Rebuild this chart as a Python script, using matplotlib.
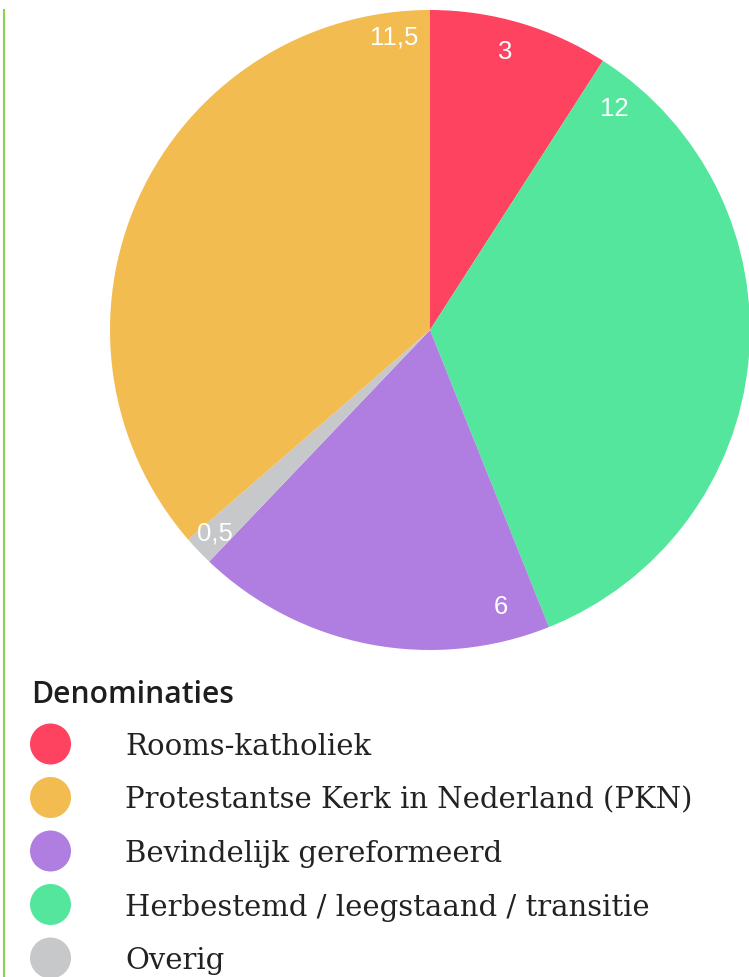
import matplotlib
matplotlib.use("Agg")
import matplotlib.pyplot as plt
from matplotlib.patches import Circle
import numpy as np

# Data (legend order)
categories = ["Rooms-katholiek", "Protestantse Kerk in Nederland (PKN)",
              "Bevindelijk gereformeerd", "Herbestemd / leegstaand / transitie", "Overig"]
# slice sizes as drawn in the picture
values = [3, 12, 6, 11.5, 0.5]
# label texts as printed on the slices
value_labels = ["3", "11,5", "6", "12", "0,5"]
colors = ["#fe4360", "#f2bc50", "#b07de0", "#55e69d", "#c7c8ca"]
legend_title = "Denominaties"

# pie drawing order (clockwise from top)
pie_order = [0, 3, 2, 4, 1]
# label placement (angle clockwise from top in degrees, radius fraction) per pie slice
label_place = [(15.1, 0.90), (39.9, 0.90), (165.6, 0.895), (226.5, 0.925), (-7.0, 0.92)]

W, H = 749, 977
fig = plt.figure(figsize=(W / 100, H / 100), dpi=100)

# Pie axes
ax = fig.add_axes([110 / W, 1 - 650 / H, 640 / W, 640 / H])
pv = [values[i] for i in pie_order]
pc = [colors[i] for i in pie_order]
ax.pie(pv, colors=pc, startangle=90, counterclock=False, radius=1,
       wedgeprops=dict(linewidth=0))
ax.set_xlim(-1, 1)
ax.set_ylim(-1, 1)
ax.set_aspect("equal")
ax.axis("off")
for k, i in enumerate(pie_order):
    ang, r = label_place[k]
    a = np.deg2rad(ang)
    ax.text(r * np.sin(a), r * np.cos(a), value_labels[i], color="white",
            fontsize=18.5, family="Liberation Sans", ha="center", va="center")

# Overlay axes in pixel coords
ov = fig.add_axes([0, 0, 1, 1])
ov.set_xlim(0, W)
ov.set_ylim(H, 0)
ov.axis("off")
ov.patch.set_alpha(0)
ov.plot([4, 4], [9, H], color="#8ad24e", lw=1.5, solid_capstyle="butt")

ov.text(31, 703, legend_title, fontsize=21.6, family="Open Sans", fontweight="semibold",
        color="#1e1e1e", ha="left", va="baseline")
y0, dy = 744, 53.5
for j, (cat, col) in enumerate(zip(categories, colors)):
    yc = y0 + j * dy
    ov.add_patch(Circle((50.5, yc), 20.5, color=col, lw=0))
    ov.text(125, yc + 11, cat, fontsize=21, family="DejaVu Serif",
            color="#222222", ha="left", va="baseline")

fig.savefig("out.png", dpi=100)
